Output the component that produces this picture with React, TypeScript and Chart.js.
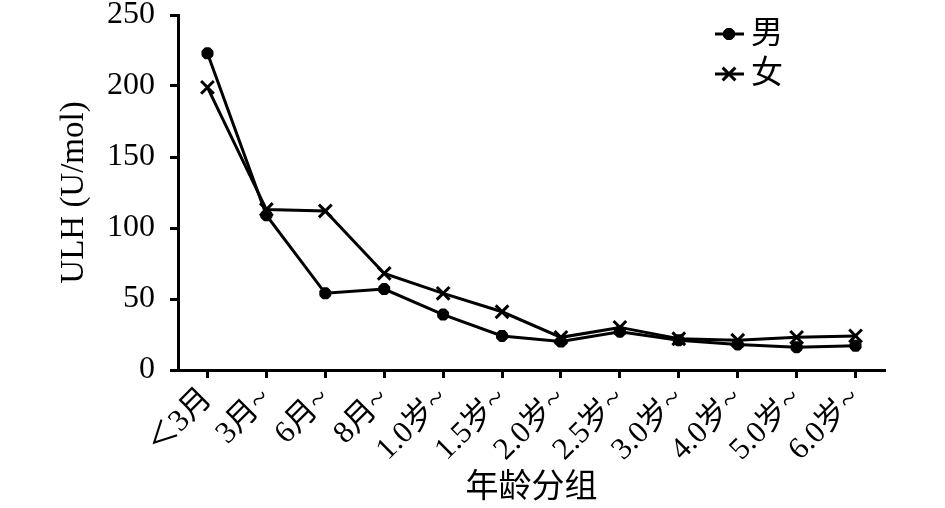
import React, { useEffect, useRef } from "react";
import { Chart, registerables } from "chart.js";
import { drawPoint } from "chart.js/helpers";

Chart.register(...registerables);

// age groups on the x axis
const ageGroups = [
  "＜3月",
  "3月~",
  "6月~",
  "8月~",
  "1.0岁~",
  "1.5岁~",
  "2.0岁~",
  "2.5岁~",
  "3.0岁~",
  "4.0岁~",
  "5.0岁~",
  "6.0岁~",
];

// ULH values
const maleValues = [223, 109, 54, 57, 39, 24, 20, 27, 21, 18, 16, 17];
const femaleValues = [199, 113, 112, 68, 54, 41, 23, 30, 22, 21, 23, 24];

const seriesNames = ["男", "女"];
const yTicks = [0, 50, 100, 150, 200, 250];

const FONT = "'Liberation Serif', 'Noto Sans CJK SC', serif";

// legend drawn as line + marker, top right of the plot
const lineLegend = {
  id: "lineLegend",
  afterDraw(chart: Chart) {
    const { ctx, chartArea } = chart;
    const x0 = chartArea.right - 170;
    ctx.save();
    chart.data.datasets.forEach((ds: any, i: number) => {
      const y = chartArea.top + 19 + i * 40;
      ctx.strokeStyle = "#000";
      ctx.lineWidth = 3;
      ctx.beginPath();
      ctx.moveTo(x0, y);
      ctx.lineTo(x0 + 29, y);
      ctx.stroke();
      ctx.fillStyle = "#000";
      ctx.lineWidth = ds.pointBorderWidth;
      drawPoint(
        ctx,
        {
          pointStyle: ds.pointStyle,
          radius: ds.pointRadius,
          rotation: 0,
          borderWidth: ds.pointBorderWidth,
        },
        x0 + 14,
        y
      );
      ctx.font = `32px ${FONT}`;
      ctx.textBaseline = "middle";
      ctx.textAlign = "left";
      ctx.fillText(ds.label, x0 + 36, y + 1);
    });
    ctx.restore();
  },
};

const App = () => {
  const chartRef = useRef<HTMLCanvasElement | null>(null);

  useEffect(() => {
    document.body.style.margin = "0";
    const ctx = chartRef.current?.getContext("2d");
    if (!ctx) return;

    const chart = new Chart(ctx, {
      type: "line",
      data: {
        labels: ageGroups,
        datasets: [
          {
            label: seriesNames[0],
            data: maleValues,
            borderColor: "#000",
            backgroundColor: "#000",
            borderWidth: 3,
            pointStyle: "star",
            pointRadius: 6,
            pointBorderWidth: 4.5,
            pointBorderColor: "#000",
            pointBackgroundColor: "#000",
            tension: 0,
          },
          {
            label: seriesNames[1],
            data: femaleValues,
            borderColor: "#000",
            backgroundColor: "#000",
            borderWidth: 3,
            pointStyle: "crossRot",
            pointRadius: 9,
            pointBorderWidth: 3,
            pointBorderColor: "#000",
            pointBackgroundColor: "#000",
            tension: 0,
          },
        ],
      },
      options: {
        responsive: false,
        animation: false,
        layout: {
          autoPadding: false,
          padding: { top: 0, right: 60, left: 0, bottom: 0 },
        },
        plugins: {
          legend: { display: false },
          tooltip: { enabled: false },
        },
        scales: {
          x: {
            offset: true,
            grid: {
              drawOnChartArea: false,
              drawTicks: true,
              tickLength: 8,
              tickWidth: 3,
              tickColor: "#000",
              offset: false,
            },
            border: { color: "#000", width: 3 },
            ticks: {
              color: "#000",
              font: { family: FONT, size: 31 },
              maxRotation: 45,
              minRotation: 45,
              padding: 3,
              autoSkip: false,
            },
            title: {
              display: true,
              text: "年龄分组",
              color: "#000",
              font: { family: FONT, size: 33 },
              padding: { top: 0, bottom: 0 },
            },
            afterFit: (scale: any) => {
              scale.height = 138;
            },
          },
          y: {
            min: 0,
            max: 250,
            afterBuildTicks: (scale: any) => {
              scale.ticks = yTicks.map((v) => ({ value: v }));
            },
            grid: {
              drawOnChartArea: false,
              drawTicks: true,
              tickLength: 8,
              tickWidth: 3,
              tickColor: "#000",
            },
            border: { color: "#000", width: 3 },
            ticks: {
              color: "#000",
              font: { family: FONT, size: 32 },
              padding: 15,
            },
            title: {
              display: true,
              text: "ULH (U/mol)",
              color: "#000",
              font: { family: FONT, size: 33 },
              padding: { top: 55, bottom: 0 },
            },
            afterFit: (scale: any) => {
              scale.width = 178;
              scale.paddingTop = 15;
              scale.paddingBottom = 0;
            },
          },
        },
      },
      plugins: [lineLegend],
    });

    return () => {
      chart.destroy();
    };
  }, []);

  return (
    <div style={{ width: 945, height: 508, background: "#fff" }}>
      <canvas ref={chartRef} width={945} height={508} />
    </div>
  );
};

export default App;
